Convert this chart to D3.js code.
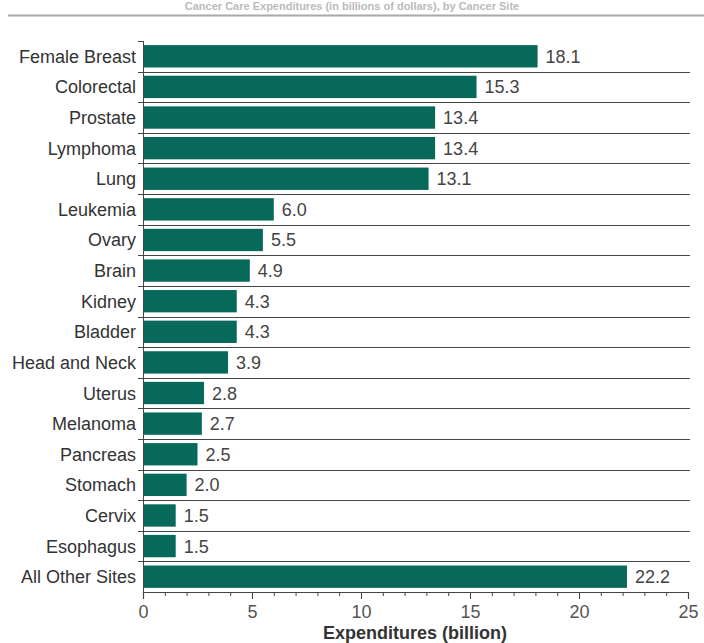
<!DOCTYPE html>
<html><head><meta charset="utf-8">
<script src="https://cdn.jsdelivr.net/npm/d3@7"></script>
<style>body{margin:0;background:#fff;} svg{display:block;font-family:"Liberation Sans",Arial,sans-serif;}</style>
</head><body>
<svg id="c" width="704" height="643"></svg>
<script>
const categories = ["Female Breast","Colorectal","Prostate","Lymphoma","Lung","Leukemia","Ovary","Brain","Kidney","Bladder","Head and Neck","Uterus","Melanoma","Pancreas","Stomach","Cervix","Esophagus","All Other Sites"];
const values = [18.1,15.3,13.4,13.4,13.1,6.0,5.5,4.9,4.3,4.3,3.9,2.8,2.7,2.5,2.0,1.5,1.5,22.2];
const xTicks = [0,5,10,15,20,25];
const titleText = "Cancer Care Expenditures (in billions of dollars), by Cancer Site";
const xTitle = "Expenditures (billion)";

const svg = d3.select("#c");
const x = d3.scaleLinear().domain([0,25]).range([143,688]);
const y = d3.scaleBand().domain(categories).range([41,592]).paddingInner(0.27).paddingOuter(0.135);
const yb = d3.scaleBand().domain(categories).range([41,592]);

// title (light, small)
svg.append("text").attr("x",352).attr("y",10).attr("text-anchor","middle")
  .attr("font-size",11).attr("font-weight","bold").attr("fill","#bbb").text(titleText);
svg.append("line").attr("x1",8).attr("x2",704).attr("y1",15.5).attr("y2",15.5)
  .attr("stroke","#aaa").attr("stroke-width",2);

// separators
categories.slice(0,-1).forEach(c=>{
  const yy = Math.round(yb(c)+yb.bandwidth())+0.5;
  svg.append("line").attr("x1",138).attr("x2",690).attr("y1",yy).attr("y2",yy)
    .attr("stroke","#444").attr("stroke-width",1.2);
});
svg.append("line").attr("x1",138).attr("x2",143).attr("y1",41.5).attr("y2",41.5).attr("stroke","#444");
svg.append("line").attr("x1",143.5).attr("x2",143.5).attr("y1",41).attr("y2",592).attr("stroke","#444");

// bars
svg.selectAll("rect.bar").data(categories).join("rect").attr("class","bar")
  .attr("x",x(0)+1).attr("y",d=>y(d)).attr("height",y.bandwidth())
  .attr("width",(d,i)=>x(values[i])-x(0)-1).attr("fill","#07695a");

// values
svg.selectAll("text.val").data(categories).join("text").attr("class","val")
  .attr("x",(d,i)=>x(values[i])+8).attr("y",d=>y(d)+y.bandwidth()/2+6.5)
  .attr("font-size",18).attr("fill","#444")
  .text((d,i)=>values[i].toFixed(1));

// category labels
svg.selectAll("text.cat").data(categories).join("text").attr("class","cat")
  .attr("x",136).attr("y",d=>y(d)+y.bandwidth()/2+6.5).attr("text-anchor","end")
  .attr("font-size",18).attr("fill","#333").text(d=>d);

// x axis
const ax = svg.append("g").attr("transform","translate(0,592)");
ax.call(d3.axisBottom(x).tickValues(d3.range(0,26,1)).tickSize(4).tickFormat(""));
ax.call(g=>g.selectAll(".tick line").attr("stroke","#444"));
ax.select(".domain").attr("stroke","none");
const ax2 = svg.append("g").attr("transform","translate(0,592)");
ax2.call(d3.axisBottom(x).tickValues(xTicks).tickSize(7).tickPadding(6).tickFormat(d3.format("d")));
ax2.select(".domain").attr("stroke","#444").attr("stroke-width",1.2);
ax2.selectAll(".tick line").attr("stroke","#444");
ax2.selectAll(".tick text").attr("font-size",18).attr("fill","#555")
  .attr("font-family","'Liberation Sans',Arial,sans-serif");

svg.append("text").attr("x",415).attr("y",639).attr("text-anchor","middle")
  .attr("font-size",18).attr("font-weight","bold").attr("fill","#333").text(xTitle);
</script>
</body></html>
